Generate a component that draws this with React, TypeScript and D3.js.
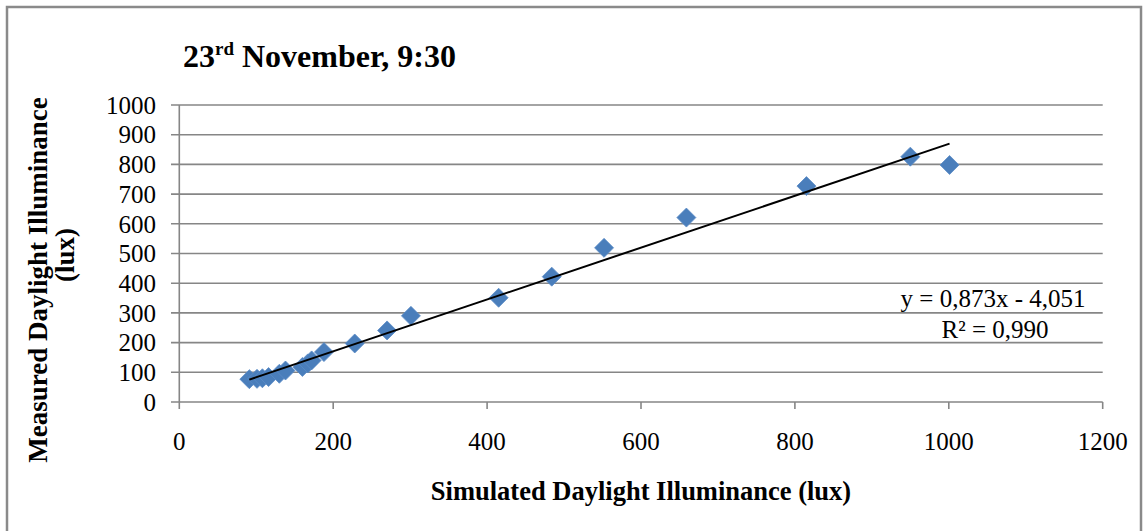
import React from "react";
import * as d3 from "d3";

const simulated = [91, 101, 108, 116, 130, 138, 160, 167, 172, 188, 228, 270, 301, 415, 484, 552, 659, 815, 950, 1001];
const measured = [77, 78, 80, 84, 95, 106, 118, 130, 140, 168, 197, 241, 290, 351, 422, 519, 621, 727, 826, 798];
const xTicks = [0, 200, 400, 600, 800, 1000, 1200];
const yTicks = [0, 100, 200, 300, 400, 500, 600, 700, 800, 900, 1000];
const slope = 0.873;
const intercept = -4.051;
const equationText = "y = 0,873x - 4,051";
const r2Text = "R² = 0,990";

const W = 1148;
const H = 531;
const FONT = "'Liberation Serif', 'Times New Roman', serif";

export default function App() {
  const x = d3.scaleLinear().domain([0, 1200]).range([179.3, 1102.7]);
  const y = d3.scaleLinear().domain([0, 1000]).range([402, 105]);
  const grid = "#868686";
  const xMin = d3.min(simulated) as number;
  const xMax = d3.max(simulated) as number;
  const line = d3.line<number>().x((d) => x(d)).y((d) => y(slope * d + intercept));
  const r = 9.5;
  const diamond = (cx: number, cy: number) =>
    `M${cx},${cy - r}L${cx + r},${cy}L${cx},${cy + r}L${cx - r},${cy}Z`;

  return (
    <svg width={W} height={H} style={{ position: "absolute", left: 0, top: 0, background: "#fff" }}>
      <rect x={7} y={7} width={1134} height={540} fill="#fff" stroke="#8a8a8a" strokeWidth={2.5} />
      {yTicks.map((t) => (
        <g key={"y" + t}>
          <line x1={171} x2={x(1200)} y1={y(t)} y2={y(t)} stroke={grid} strokeWidth={1.6} />
          <text x={156} y={y(t)} dy="0.35em" textAnchor="end" fontFamily={FONT} fontSize={25} fill="#000">
            {t}
          </text>
        </g>
      ))}
      <line x1={x(0)} x2={x(0)} y1={y(1000)} y2={y(0)} stroke={grid} strokeWidth={1.6} />
      {xTicks.map((t) => (
        <g key={"x" + t}>
          <line x1={x(t)} x2={x(t)} y1={y(0)} y2={y(0) + 7} stroke={grid} strokeWidth={1.6} />
          <text x={x(t)} y={450} textAnchor="middle" fontFamily={FONT} fontSize={25} fill="#000">
            {t}
          </text>
        </g>
      ))}
      {simulated.map((s, i) => (
        <path key={"p" + i} d={diamond(x(s), y(measured[i]))} fill="#4a7ebb" stroke="#5b8cc6" strokeWidth={0.8} />
      ))}
      <path d={line([xMin, xMax]) || ""} fill="none" stroke="#000" strokeWidth={2} />
      <text x={993} y={307} textAnchor="middle" fontFamily={FONT} fontSize={25} fill="#000">
        {equationText}
      </text>
      <text x={995} y={338} textAnchor="middle" fontFamily={FONT} fontSize={25} fill="#000">
        {r2Text}
      </text>
      <text x={183} y={67} fontFamily={FONT} fontSize={32} fontWeight="bold" fill="#000">
        23<tspan fontSize={19} dy={-12}>rd</tspan>
        <tspan dy={12}> November, 9:30</tspan>
      </text>
      <text x={641} y={500} textAnchor="middle" fontFamily={FONT} fontSize={26.5} fontWeight="bold" fill="#000">
        Simulated Daylight Illuminance (lux)
      </text>
      <g transform="rotate(-90)">
        <text x={-280} y={47} textAnchor="middle" fontFamily={FONT} fontSize={27} fontWeight="bold" fill="#000">
          Measured Daylight Illuminance
        </text>
        <text x={-255} y={74} textAnchor="middle" fontFamily={FONT} fontSize={27} fontWeight="bold" fill="#000">
          (lux)
        </text>
      </g>
    </svg>
  );
}
